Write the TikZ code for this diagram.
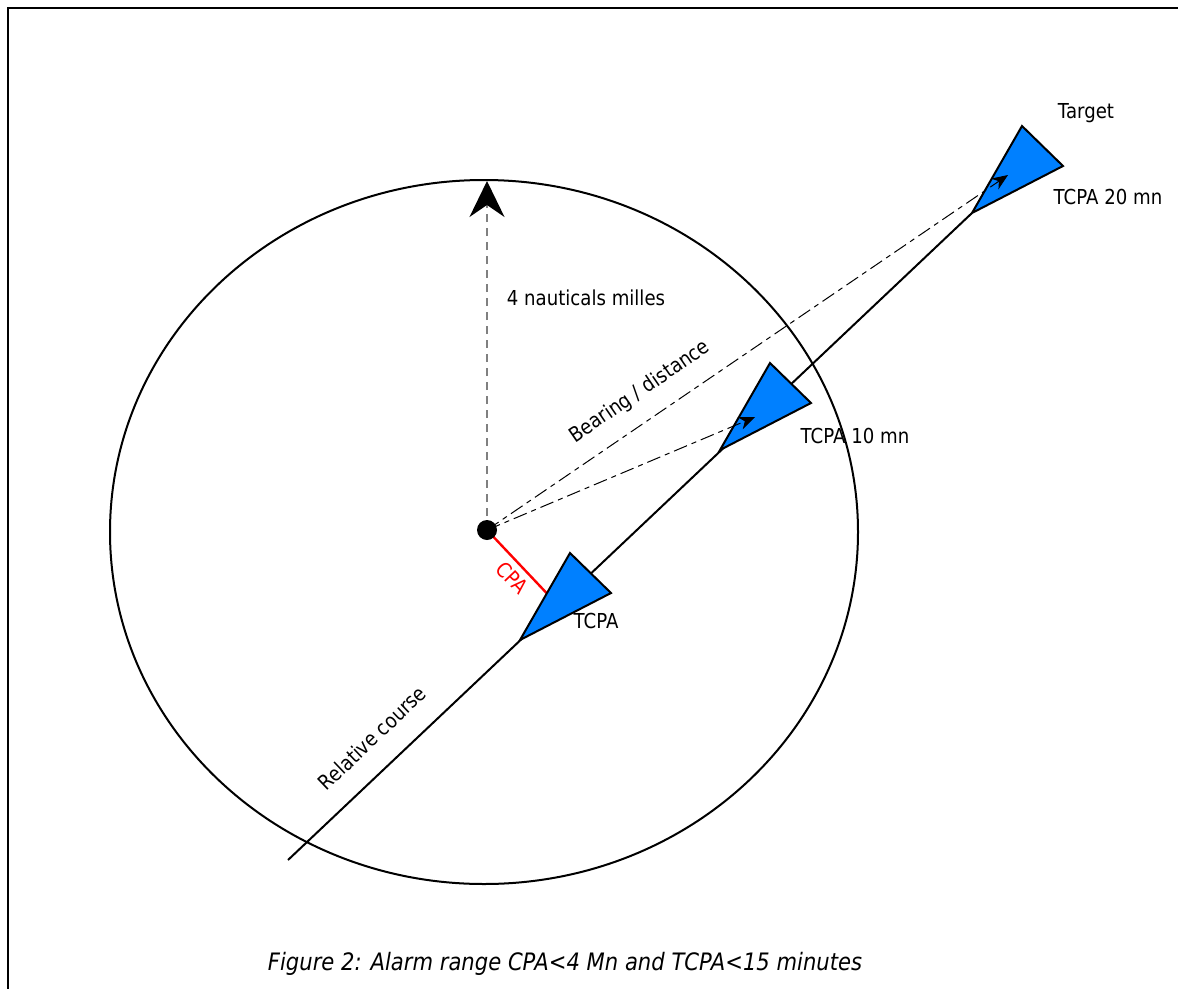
\documentclass[tikz,border=0pt]{standalone}
\usepackage{fontspec}
\setmainfont[FakeStretch=0.88]{DejaVu Sans}
\usetikzlibrary{arrows.meta,calc}
\definecolor{boatblue}{RGB}{0,128,255}

\begin{document}
\begin{tikzpicture}[x=1pt,y=-1pt]
    \tikzstyle{every node}=[font={\fontsize{20.6}{24}\selectfont}]
    \tikzstyle{boat}=[draw=black, fill=boatblue, line width=2pt]
    \tikzstyle{bearing}=[line width=1pt, dash pattern=on 14pt off 5pt on 5pt off 5pt,
        -{Stealth[length=16pt, width=13pt, inset=5pt]}]
    \clip (0,0) rectangle (1178,988);
    \draw[line width=2.2pt] (8,8) rectangle (1200,1010);
    \coordinate (own) at (487,530);
    \coordinate (start) at (288,860);
    \coordinate (cpa) at (520,640);
    \coordinate (tcpaten) at (720,450);
    \coordinate (target) at (972,213);
    \coordinate (north) at (487,181);
    \coordinate (aimten) at (755,417);
    \coordinate (aimtarget) at (1008,175);
    \coordinate (foot) at ($(cpa)!(own)!(target)$);
    \draw[line width=2pt] (484,532) ellipse [x radius=374, y radius=352];
    \draw[gray, line width=1.6pt, dash pattern=on 8pt off 6pt,
        -{Stealth[length=36pt, width=35pt, inset=12pt, black]}] (own) -- (north);
    \draw[red, line width=2.4pt] (own) -- (foot);
    \draw[line width=2pt] (start) -- (target);
    \foreach \p in {cpa,tcpaten,target}
        \draw[boat] (\p) -- ++(50,-87) -- ++(41,40) -- cycle;
    \draw[bearing] (own) -- (aimten);
    \draw[bearing] (own) -- (aimtarget);
    \fill (own) circle (10);
    \node (targetlabel) at (1086,113) {Target};
    \node (tcpatwenty) at (1108,197) {TCPA 20 mn};
    \node (tcpatenlabel) at (855,436) {TCPA 10 mn};
    \node (tcpalabel) at (596,621) {TCPA};
    \node (range) at (586,298) {4 nauticals milles};
    \node[red, rotate=-46.6] (cpalabel) at (512,578) {CPA};
    \node[rotate=34.5] (bearinglabel) at (640,392) {Bearing / distance};
    \node[rotate=43.6] (courselabel) at (372,738) {Relative course};
    \node[font={\itshape\fontsize{24}{28}\selectfont}] (caption) at (565,964)
        {Figure 2: Alarm range CPA<4 Mn and TCPA<15 minutes};
\end{tikzpicture}
\end{document}
